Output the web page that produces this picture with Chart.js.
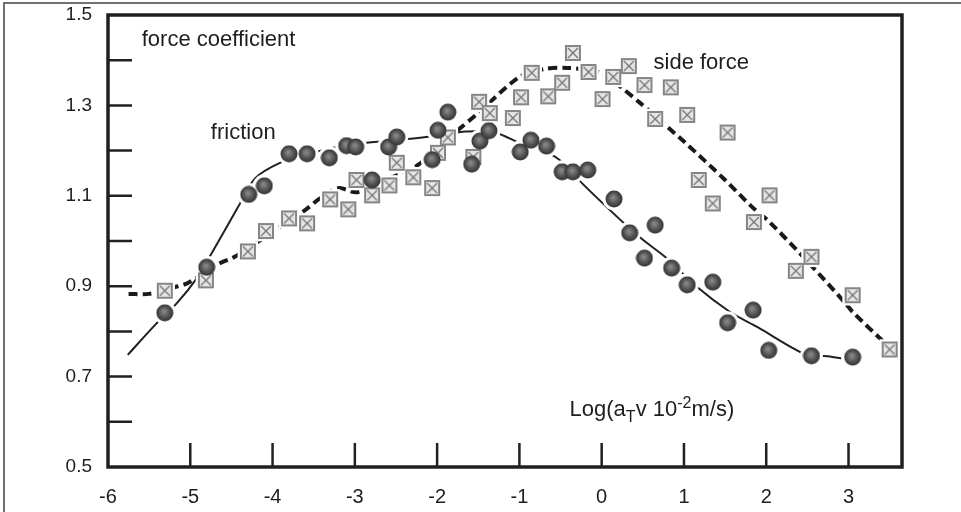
<!DOCTYPE html>
<html>
<head>
<meta charset="utf-8">
<script src="https://cdn.jsdelivr.net/npm/chart.js@4.4.1/dist/chart.umd.min.js"></script>
<style>
  html, body { margin: 0; padding: 0; background: #fff; }
  #wrap { position: relative; width: 961px; height: 512px; }
</style>
</head>
<body>
<div id="wrap"><canvas id="chart"></canvas></div>
<script>
// tick values
const xTicks = [-6, -5, -4, -3, -2, -1, 0, 1, 2, 3];
const yTicks = [0.5, 0.6, 0.7, 0.8, 0.9, 1.0, 1.1, 1.2, 1.3, 1.4, 1.5];
const yTickLabels = ['0.5', '0.7', '0.9', '1.1', '1.3', '1.5'];

// friction - measured points (circles)
const frictionX = [-5.31, -4.80, -4.29, -4.10, -3.80, -3.58, -3.31, -3.10, -2.99, -2.79, -2.59, -2.49, -2.06, -1.99, -1.87, -1.58, -1.48, -1.37, -0.99, -0.86, -0.67, -0.48, -0.35, -0.17, 0.15, 0.34, 0.52, 0.65, 0.85, 1.04, 1.35, 1.53, 1.84, 2.03, 2.55, 3.05];
const frictionY = [0.841, 0.942, 1.103, 1.122, 1.193, 1.193, 1.184, 1.211, 1.208, 1.135, 1.208, 1.230, 1.180, 1.245, 1.285, 1.170, 1.221, 1.244, 1.197, 1.223, 1.210, 1.153, 1.153, 1.157, 1.093, 1.018, 0.962, 1.035, 0.940, 0.903, 0.909, 0.819, 0.847, 0.758, 0.746, 0.743];

// side force - measured points (crossed squares)
const sideX = [-5.31, -4.81, -4.30, -4.08, -3.80, -3.58, -3.30, -3.08, -2.98, -2.79, -2.58, -2.49, -2.29, -2.06, -1.99, -1.87, -1.56, -1.49, -1.36, -1.08, -0.98, -0.85, -0.65, -0.48, -0.35, -0.16, 0.01, 0.14, 0.33, 0.52, 0.65, 0.84, 1.04, 1.18, 1.35, 1.53, 1.85, 2.04, 2.36, 2.55, 3.05, 3.50];
const sideY = [0.890, 0.913, 0.977, 1.022, 1.050, 1.039, 1.092, 1.070, 1.135, 1.101, 1.123, 1.173, 1.141, 1.117, 1.195, 1.229, 1.186, 1.308, 1.283, 1.272, 1.318, 1.372, 1.320, 1.350, 1.416, 1.374, 1.314, 1.363, 1.387, 1.345, 1.270, 1.340, 1.279, 1.135, 1.083, 1.240, 1.042, 1.101, 0.934, 0.965, 0.880, 0.760];

// hand drawn trend curves
const frictionFitX = [-5.76, -5.43, -5.16, -4.92, -4.74, -4.42, -4.21, -3.91, -3.6, -3.3, -2.88, -2.4, -2.0, -1.65, -1.3, -1.0, -0.6, -0.39, -0.24, 0.32, 0.52, 0.79, 1.16, 1.56, 1.89, 2.49, 2.75, 2.95];
const frictionFitY = [0.748, 0.814, 0.863, 0.918, 0.973, 1.075, 1.139, 1.173, 1.190, 1.205, 1.217, 1.225, 1.233, 1.242, 1.240, 1.217, 1.190, 1.160, 1.128, 1.031, 1.000, 0.962, 0.898, 0.843, 0.810, 0.748, 0.745, 0.739];
const sideFitX = [-5.75, -5.5, -5.19, -5.03, -4.64, -4.46, -4.0, -3.6, -3.42, -3.2, -2.97, -2.6, -2.25, -1.75, -1.52, -1.0, -0.71, -0.41, 0.0, 0.25, 0.47, 1.0, 1.5, 1.83, 2.04, 2.5, 2.96, 3.05, 3.47, 3.56];
const sideFitY = [0.883, 0.883, 0.898, 0.907, 0.951, 0.965, 1.020, 1.069, 1.095, 1.117, 1.108, 1.137, 1.166, 1.245, 1.280, 1.363, 1.380, 1.383, 1.372, 1.338, 1.305, 1.220, 1.135, 1.075, 1.042, 0.955, 0.863, 0.843, 0.770, 0.759];

// text labels: [text, x, y] in data units (left / baseline)
const notes = [
  ['force coefficient', -5.59, 1.431],
  ['friction', -4.75, 1.226],
  ['side force', 0.63, 1.381]
];
const axisTitlePos = [-0.39, 0.613];

const pts = (xs, ys) => xs.map((x, i) => ({ x: x, y: ys[i] }));

function circleMark() {
  const c = document.createElement('canvas');
  c.width = 18; c.height = 18;
  const g = c.getContext('2d');
  const grad = g.createRadialGradient(8, 7.5, 1, 9, 9, 9);
  grad.addColorStop(0, '#858585');
  grad.addColorStop(0.55, '#525252');
  grad.addColorStop(1, '#2e2e2e');
  g.fillStyle = grad;
  g.beginPath();
  g.arc(9, 9, 8.5, 0, Math.PI * 2);
  g.fill();
  return c;
}

function squareMark() {
  const c = document.createElement('canvas');
  c.width = 18; c.height = 18;
  const g = c.getContext('2d');
  g.fillStyle = '#e6e6e6';
  g.fillRect(1, 1, 16, 16);
  g.strokeStyle = '#858585';
  g.lineWidth = 2;
  g.strokeRect(2, 2, 14, 14);
  g.strokeStyle = '#757575';
  g.lineWidth = 1.3;
  g.beginPath();
  g.moveTo(4, 4); g.lineTo(14, 14);
  g.moveTo(14, 4); g.lineTo(4, 14);
  g.stroke();
  return c;
}

const FONT = '"Liberation Sans", Arial, Helvetica, sans-serif';

// frame, inward ticks, texts
const decor = {
  id: 'decor',
  afterDraw(chart) {
    const { ctx, chartArea: a } = chart;
    const xs = chart.scales.x, ys = chart.scales.y;
    ctx.save();
    // outer scan border (top and left)
    ctx.strokeStyle = '#707070';
    ctx.lineWidth = 2;
    ctx.beginPath();
    ctx.moveTo(4, chart.height);
    ctx.lineTo(4, 3);
    ctx.lineTo(chart.width, 3);
    ctx.stroke();

    ctx.strokeStyle = '#231f20';
    ctx.lineWidth = 2.5;
    ctx.beginPath();
    yTicks.slice(1, -1).forEach(v => {
      const y = ys.getPixelForValue(v);
      ctx.moveTo(a.left, y);
      ctx.lineTo(a.left + 24, y);
    });
    xTicks.slice(1).forEach(v => {
      const x = xs.getPixelForValue(v);
      ctx.moveTo(x, a.bottom);
      ctx.lineTo(x, a.bottom - 24);
    });
    ctx.stroke();

    ctx.lineWidth = 3.5;
    ctx.strokeRect(a.left, a.top, a.right - a.left, a.bottom - a.top);

    ctx.fillStyle = '#1e1e1e';
    ctx.font = '22px ' + FONT;
    ctx.textBaseline = 'alphabetic';
    ctx.textAlign = 'left';
    notes.forEach(n => {
      ctx.fillText(n[0], xs.getPixelForValue(n[1]), ys.getPixelForValue(n[2]));
    });

    // Log(aT v 10^-2 m/s)
    let tx = xs.getPixelForValue(axisTitlePos[0]);
    const ty = ys.getPixelForValue(axisTitlePos[1]);
    const parts = [['Log(a', 0, 22], ['T', 6, 16], ['v 10', 0, 22], ['-2', -8, 16], ['m/s)', 0, 22]];
    parts.forEach(p => {
      ctx.font = p[2] + 'px ' + FONT;
      ctx.fillText(p[0], tx, ty + p[1]);
      tx += ctx.measureText(p[0]).width;
    });
    ctx.restore();
  }
};

const circleImg = circleMark();
const squareImg = squareMark();

new Chart(document.getElementById('chart'), {
  type: 'scatter',
  data: {
    datasets: [
      {
        label: 'friction fit',
        data: pts(frictionFitX, frictionFitY),
        showLine: true,
        borderColor: '#231f20',
        borderWidth: 2,
        pointRadius: 0,
        tension: 0.3,
        order: 5
      },
      {
        label: 'side force fit',
        data: pts(sideFitX, sideFitY),
        showLine: true,
        borderColor: '#1a1a1a',
        borderWidth: 4,
        borderDash: [9, 5],
        pointRadius: 0,
        tension: 0.3,
        order: 5
      },
      {
        label: 'halo friction',
        data: pts(frictionX, frictionY),
        pointStyle: 'circle',
        pointRadius: 11.5,
        backgroundColor: '#ffffff',
        borderWidth: 0,
        order: 4
      },
      {
        label: 'halo side',
        data: pts(sideX, sideY),
        pointStyle: 'rect',
        pointRadius: 14.5,
        backgroundColor: '#ffffff',
        borderWidth: 0,
        order: 4
      },
      {
        label: 'side force',
        data: pts(sideX, sideY),
        pointStyle: squareImg,
        pointRadius: 9,
        order: 3
      },
      {
        label: 'friction',
        data: pts(frictionX, frictionY),
        pointStyle: circleImg,
        pointRadius: 9,
        order: 2
      }
    ]
  },
  plugins: [decor],
  options: {
    responsive: true,
    maintainAspectRatio: false,
    animation: false,
    devicePixelRatio: 1,
    layout: { padding: { top: 15, right: 59, left: 0, bottom: 0 } },
    plugins: {
      legend: { display: false },
      tooltip: { enabled: false }
    },
    scales: {
      x: {
        type: 'linear',
        min: -6,
        max: 3.65,
        afterBuildTicks: s => { s.ticks = xTicks.map(v => ({ value: v })); },
        afterFit: s => { s.height = 45; },
        grid: { display: false, drawTicks: false },
        border: { display: false },
        ticks: {
          autoSkip: false,
          maxRotation: 0,
          padding: 18,
          color: '#1e1e1e',
          font: { family: FONT, size: 20 },
          callback: v => String(v)
        }
      },
      y: {
        min: 0.5,
        max: 1.5,
        afterBuildTicks: s => { s.ticks = yTicks.map(v => ({ value: v })); },
        afterFit: s => { s.width = 108; s.paddingTop = 0; s.paddingBottom = 0; },
        grid: { display: false, drawTicks: false },
        border: { display: false },
        ticks: {
          autoSkip: false,
          padding: 16,
          color: '#1e1e1e',
          font: { family: FONT, size: 19 },
          callback: v => {
            const t = v.toFixed(1);
            return yTickLabels.includes(t) ? t : '';
          }
        }
      }
    }
  }
});
</script>
</body>
</html>
